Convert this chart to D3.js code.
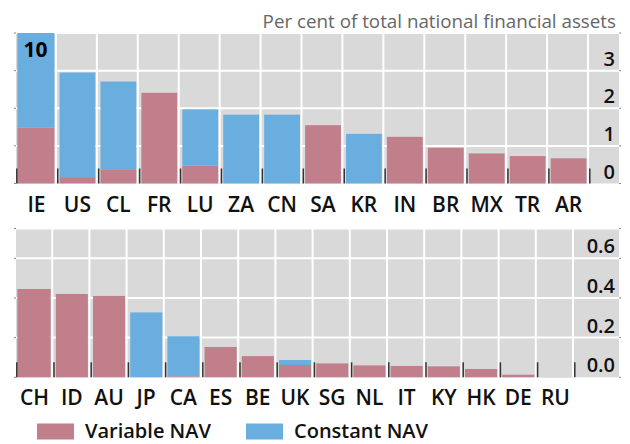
<!DOCTYPE html>
<html>
<head>
<meta charset="utf-8">
<script src="https://cdn.jsdelivr.net/npm/d3@7"></script>
<style>
  body { margin: 0; background: #fff; }
  svg { display: block; font-family: "Open Sans", "Noto Sans", sans-serif; }
</style>
</head>
<body>
<div id="chart"></div>
<script>
// Money market funds by NAV type, per cent of total national financial assets

// Top panel data
const topCats = ['IE', 'US', 'CL', 'FR', 'LU', 'ZA', 'CN', 'SA', 'KR', 'IN', 'BR', 'MX', 'TR', 'AR'];
const topVariable = [1.48, 0.17, 0.38, 2.41, 0.47, 0, 0, 1.55, 0, 1.24, 0.95, 0.80, 0.73, 0.67];
const topConstant = [8.52, 2.78, 2.33, 0, 1.50, 1.83, 1.83, 0, 1.32, 0, 0, 0, 0, 0];
const topTicks = [0, 1, 2, 3];

// Bottom panel data
const bottomCats = ['CH', 'ID', 'AU', 'JP', 'CA', 'ES', 'BE', 'UK', 'SG', 'NL', 'IT', 'KY', 'HK', 'DE', 'RU'];
const bottomVariable = [0.445, 0.42, 0.41, 0, 0.005, 0.153, 0.107, 0.062, 0.07, 0.06, 0.057, 0.055, 0.042, 0.013, 0.001];
const bottomConstant = [0, 0, 0, 0.327, 0.202, 0, 0, 0.025, 0, 0, 0, 0, 0, 0, 0];
const bottomTicks = [0, 0.2, 0.4, 0.6];

const seriesNames = ['Variable NAV', 'Constant NAV'];
const colors = ['#c17f8c', '#6aaee0'];

const width = 630, height = 444;
const plotLeft = 16, plotRight = 619;

const svg = d3.select('#chart').append('svg')
    .attr('width', width)
    .attr('height', height);

// Title
svg.append('text')
    .attr('x', 616)
    .attr('y', 27.5)
    .attr('text-anchor', 'end')
    .style('font-size', '18.8px')
    .style('fill', '#666')
    .text('Per cent of total national financial assets');

function drawPanel(cats, variable, constant, ticks, opts) {
    const g = svg.append('g');

    const x = d3.scaleBand()
        .domain(cats)
        .range([plotLeft, opts.bandRight]);

    const y = d3.scaleLinear()
        .domain([0, opts.maxY])
        .range([opts.bottom, opts.top])
        .clamp(true);

    // Grey plot background
    g.append('rect')
        .attr('x', plotLeft)
        .attr('y', opts.top)
        .attr('width', plotRight - plotLeft)
        .attr('height', opts.bottom - opts.top)
        .attr('fill', '#d9d9d9');

    // Horizontal gridlines
    const gridVals = ticks.slice(1).concat([opts.maxY]);
    g.selectAll('line.hgrid')
        .data(gridVals)
        .enter()
        .append('line')
        .attr('class', 'hgrid')
        .attr('x1', plotLeft)
        .attr('x2', plotRight)
        .attr('y1', d => y(d))
        .attr('y2', d => y(d))
        .attr('stroke', '#fff')
        .attr('stroke-width', 2);

    // Vertical gridlines at category boundaries
    const bounds = cats.slice(1).map(c => x(c)).concat([opts.bandRight]);
    g.selectAll('line.vgrid')
        .data(bounds)
        .enter()
        .append('line')
        .attr('class', 'vgrid')
        .attr('x1', d => d - 1)
        .attr('x2', d => d - 1)
        .attr('y1', opts.top)
        .attr('y2', opts.bottom)
        .attr('stroke', '#fff')
        .attr('stroke-width', 2);

    // Small outer tick marks on both sides
    const sideVals = ticks.concat([opts.maxY]);
    [plotLeft - 2, plotRight].forEach(sx => {
        g.selectAll(null)
            .data(sideVals)
            .enter()
            .append('line')
            .attr('x1', sx)
            .attr('x2', sx + 2)
            .attr('y1', d => y(d))
            .attr('y2', d => y(d))
            .attr('stroke', '#888')
            .attr('stroke-width', 1);
    });

    // Stacked bars
    const rows = cats.map((c, i) => ({cat: c, 'Variable NAV': variable[i], 'Constant NAV': constant[i]}));
    const stacked = d3.stack().keys(seriesNames)(rows);

    g.selectAll('g.series')
        .data(stacked)
        .enter()
        .append('g')
        .attr('class', 'series')
        .attr('fill', (d, i) => colors[i])
        .selectAll('rect')
        .data(d => d)
        .enter()
        .append('rect')
        .attr('x', d => x(d.data.cat) + (d.data.cat === cats[0] ? 1.3 : 2.6))
        .attr('width', d => x.bandwidth() - (d.data.cat === cats[0] ? 3.8 : 5.1))
        .attr('y', d => y(d[1]))
        .attr('height', d => Math.max(0, y(d[0]) - y(d[1])));

    // Dark category ticks at the bottom
    const tickXs = cats.map(c => x(c)).concat([opts.bandRight]);
    g.selectAll('line.ctick')
        .data(tickXs)
        .enter()
        .append('line')
        .attr('class', 'ctick')
        .attr('x1', d => d + 0.8)
        .attr('x2', d => d + 0.8)
        .attr('y1', opts.bottom - 15)
        .attr('y2', opts.bottom)
        .attr('stroke', '#333')
        .attr('stroke-width', 1.5);

    // Value labels on the right
    g.selectAll('text.ylab')
        .data(ticks)
        .enter()
        .append('text')
        .attr('class', 'ylab')
        .attr('x', 615)
        .attr('y', d => y(d) - 5)
        .attr('text-anchor', 'end')
        .style('font-size', '20px')
        .style('font-weight', 600)
        .style('fill', '#111')
        .text(d => opts.fmt(d));

    // Category labels
    g.selectAll('text.xlab')
        .data(cats)
        .enter()
        .append('text')
        .attr('class', 'xlab')
        .attr('x', d => x(d) + x.bandwidth() / 2)
        .attr('y', opts.labelY)
        .attr('text-anchor', 'middle')
        .style('font-size', '21px')
        .style('font-weight', 600)
        .style('fill', '#111')
        .text(d => d);

    return {x, y};
}

const topPanel = drawPanel(topCats, topVariable, topConstant, topTicks, {
    top: 33, bottom: 183.5, maxY: 4, bandRight: 589, labelY: 211.5,
    fmt: d3.format('d')
});

const bottomPanel = drawPanel(bottomCats, bottomVariable, bottomConstant, bottomTicks, {
    top: 228.5, bottom: 377.3, maxY: 0.75, bandRight: 574, labelY: 405,
    fmt: d3.format('.1f')
});

// Truncated IE bar: print its total value
svg.append('text')
    .attr('x', topPanel.x('IE') + topPanel.x.bandwidth() / 2 - 1)
    .attr('y', 57)
    .attr('text-anchor', 'middle')
    .style('font-size', '21px')
    .style('font-weight', 700)
    .style('fill', '#000')
    .text(d3.format('d')(topVariable[0] + topConstant[0]));

// Legend
const legend = svg.append('g');
const legendX = [37, 246];
seriesNames.forEach((name, i) => {
    legend.append('rect')
        .attr('x', legendX[i])
        .attr('y', 423.5)
        .attr('width', 37)
        .attr('height', 16)
        .attr('fill', colors[i]);
    legend.append('text')
        .attr('x', legendX[i] + 48)
        .attr('y', 438)
        .style('font-size', '20px')
        .style('font-weight', 600)
        .style('fill', '#111')
        .text(name);
});
</script>
</body>
</html>
